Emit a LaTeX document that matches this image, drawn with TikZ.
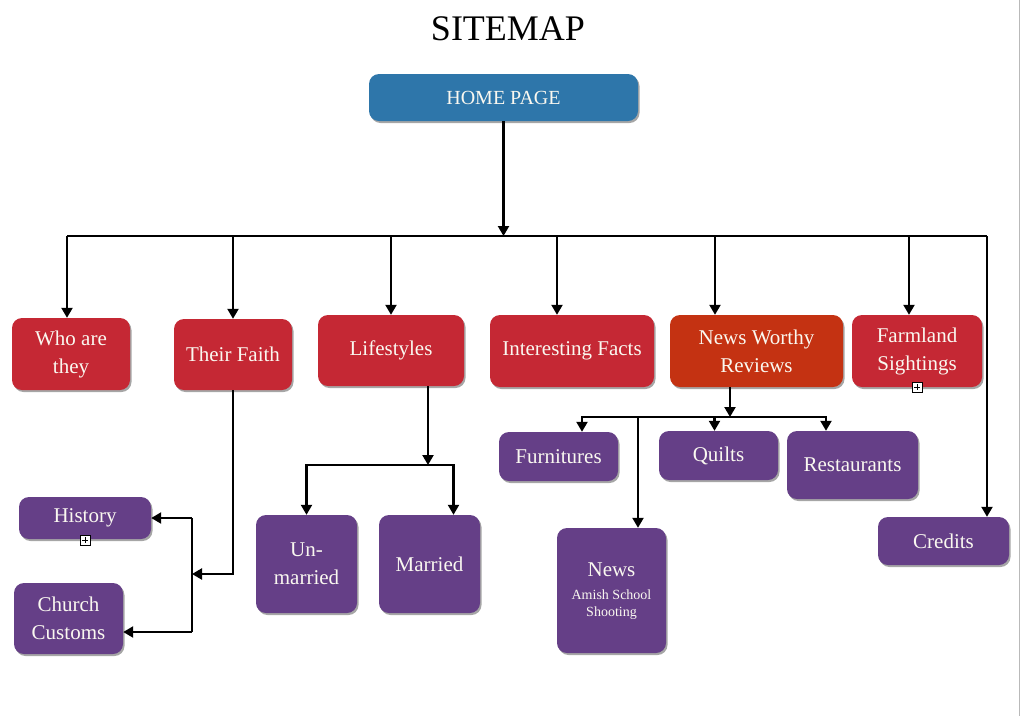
\documentclass[tikz,border=0pt]{standalone}
\usepackage{fontspec}
\setmainfont{Liberation Serif}
\usepackage{xcolor}
\usepackage{tikz}
\usetikzlibrary{arrows.meta,positioning,shadows}

\definecolor{homeblue}{RGB}{46,118,170}
\definecolor{pagered}{RGB}{197,40,52}
\definecolor{newsred}{RGB}{196,50,18}
\definecolor{subpurple}{RGB}{101,63,135}
\definecolor{boxtext}{RGB}{250,248,240}

\newcommand{\smalltxt}{\fontsize{14}{17}\selectfont}

\begin{document}
\begin{tikzpicture}[
    x=1pt, y=-1pt,
    box/.style={rounded corners=10pt, text=boxtext, align=center, inner sep=2pt,
        font=\fontsize{21}{28}\selectfont,
        drop shadow={shadow xshift=1.5pt, shadow yshift=-2pt, opacity=0.35, fill=black}},
    homebox/.style={box, fill=homeblue, font=\fontsize{20}{24}\selectfont},
    redbox/.style={box, fill=pagered},
    purplebox/.style={box, fill=subpurple},
    line/.style={line width=2.2pt},
    arrow/.style={-{Triangle[length=10pt,width=11pt]}, line width=2.2pt},
    plusbox/.style={draw, fill=white, line width=0.8pt, minimum size=10pt, inner sep=0pt,
        path picture={\draw[line width=0.8pt]
            ([yshift=-2pt]path picture bounding box.north) -- ([yshift=2pt]path picture bounding box.south)
            ([xshift=2pt]path picture bounding box.west) -- ([xshift=-2pt]path picture bounding box.east);}}
]
    \useasboundingbox (0,0) rectangle (1021,716);
    \draw[gray!55, line width=1pt] (1019,0) -- (1019,716);

    % Title and home page
    \node[font=\fontsize{36}{40}\selectfont] (title) at (508,29) {SITEMAP};
    \node[homebox, minimum width=269pt, minimum height=47pt] (home) at (503.5,97.5) {HOME PAGE};

    % Main pages
    \node[redbox, minimum width=118pt, minimum height=72pt] (who) at (71,354) {Who are\\they};
    \node[redbox, minimum width=118pt, minimum height=71pt] (faith) at (233,354.5) {Their Faith};
    \node[redbox, minimum width=146pt, minimum height=71pt] (life) at (391,350.5) {Lifestyles};
    \node[redbox, minimum width=164pt, minimum height=72pt] (facts) at (572,351) {Interesting Facts};
    \node[box, fill=newsred, minimum width=173pt, minimum height=72pt] (worthy) at (756.5,351) {News Worthy\\Reviews};
    \node[redbox, minimum width=130pt, minimum height=72pt] (farm) at (917,351) {Farmland\\Sightings};

    % Sub pages
    \node[purplebox, minimum width=132pt, minimum height=42pt] (history) at (85,518) {History};
    \node[purplebox, minimum width=109pt, minimum height=71pt] (customs) at (68.5,618.5) {Church\\Customs};
    \node[purplebox, minimum width=101pt, minimum height=98pt] (unmarried) at (306.5,564) {Un-\\married};
    \node[purplebox, minimum width=101pt, minimum height=98pt] (married) at (429.5,564) {Married};
    \node[purplebox, minimum width=119pt, minimum height=49pt] (furn) at (558.5,456.5) {Furnitures};
    \node[purplebox, minimum width=119pt, minimum height=49pt] (quilts) at (718.5,455.5) {Quilts};
    \node[purplebox, minimum width=131pt, minimum height=68pt] (rest) at (852.5,465) {Restaurants};
    \node[purplebox, minimum width=109pt, minimum height=125pt] (news) at (611.5,590.5)
        {\raisebox{16pt}{\begin{tabular}{@{}c@{}}News\\[-5pt]\smalltxt Amish School\\[-11pt]\smalltxt Shooting\end{tabular}}};
    \node[purplebox, minimum width=131pt, minimum height=48pt] (credits) at (943.5,541) {Credits};

    % Collapse markers
    \node[plusbox] (historyplus) at (85,540) {};
    \node[plusbox] (farmplus) at (917,387) {};

    % Home page to main pages
    \coordinate (busL) at (67,236);
    \coordinate (busR) at (987,236);
    \draw[arrow] (home.south) -- (home.south |- busL);
    \draw[line] (busL) -- (busR);
    \draw[arrow] (busL) -- (busL |- who.north);
    \draw[arrow] (faith.north |- busL) -- (faith.north);
    \draw[arrow] (life.north |- busL) -- (life.north);
    \draw[arrow] ([xshift=-15pt]facts.north |- busL) -- ([xshift=-15pt]facts.north);
    \draw[arrow] ([xshift=-41.5pt]worthy.north |- busL) -- ([xshift=-41.5pt]worthy.north);
    \draw[arrow] ([xshift=-8pt]farm.north |- busL) -- ([xshift=-8pt]farm.north);
    \draw[arrow] (busR) -- (busR |- credits.north);

    % Their Faith
    \coordinate (fjoin) at (192,574);
    \coordinate (fhist) at (192,518);
    \coordinate (fcust) at (192,632);
    \draw[arrow] (faith.south) |- (fjoin);
    \draw[line] (fhist) -- (fcust);
    \draw[arrow] (fhist) -- (history.east);
    \draw[arrow] (fcust) -- (fcust -| customs.east);

    % Lifestyles
    \coordinate (ljoin) at (428,465);
    \draw[arrow] ([xshift=37pt]life.south) -- (ljoin);
    \draw[arrow] (ljoin) -| (unmarried.north);
    \draw[arrow] (ljoin) -| ([xshift=24pt]married.north);

    % News Worthy Reviews
    \coordinate (wjoin) at (730,417);
    \draw[arrow] ([xshift=-26.5pt]worthy.south) -- (wjoin);
    \draw[arrow] (wjoin) -| ([xshift=23.5pt]furn.north);
    \draw[arrow] (wjoin) -| ([xshift=26.5pt]news.north);
    \draw[arrow] (wjoin) -| ([xshift=-4pt]quilts.north);
    \draw[arrow] (wjoin) -| ([xshift=-26.5pt]rest.north);
\end{tikzpicture}
\end{document}
